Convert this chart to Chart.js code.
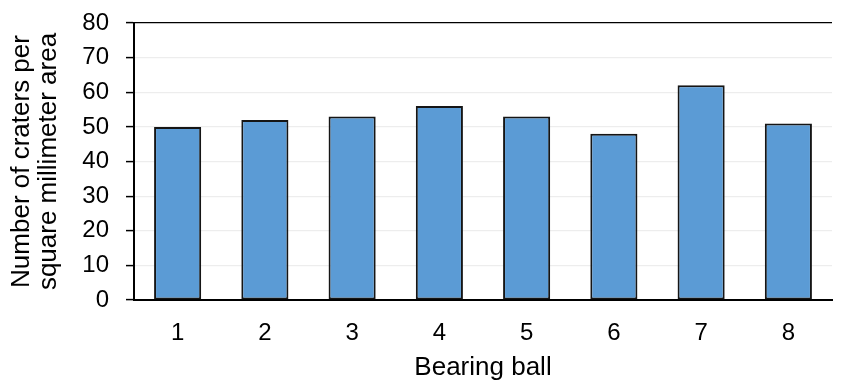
<!DOCTYPE html>
<html>
<head>
<meta charset="utf-8">
<script src="https://cdn.jsdelivr.net/npm/chart.js@4"></script>
<style>
  html, body { margin: 0; padding: 0; background: #fff; }
  #wrap { width: 841px; height: 381px; }
</style>
</head>
<body>
<div id="wrap"><canvas id="myChart" width="841" height="381"></canvas></div>
<script>
var balls = ['1', '2', '3', '4', '5', '6', '7', '8'];
var craters = [50, 52, 53, 56, 53, 48, 62, 51];
var yMin = 0, yMax = 80, yStep = 10;

var ctx = document.getElementById('myChart').getContext('2d');
var chart = new Chart(ctx, {
    type: 'bar',
    data: {
        labels: balls,
        datasets: [{
            label: 'Craters',
            data: craters,
            backgroundColor: '#5B9BD5',
            borderColor: '#151515',
            borderWidth: 2,
            borderSkipped: false,
            barPercentage: 0.54,
            categoryPercentage: 1
        }]
    },
    options: {
        responsive: false,
        animation: false,
        events: [],
        layout: { padding: { top: 23, right: 9, bottom: 0, left: 0 } },
        plugins: {
            legend: { display: false },
            tooltip: { enabled: false }
        },
        scales: {
            x: {
                grid: { display: false, drawTicks: false },
                border: { display: true, color: '#000', width: 2 },
                ticks: {
                    color: '#000',
                    padding: 19,
                    font: { family: 'Liberation Sans, Arial', size: 24 }
                },
                title: {
                    display: true,
                    text: 'Bearing ball',
                    color: '#000',
                    padding: { top: 0, bottom: -2 },
                    font: { family: 'Liberation Sans, Arial', size: 26 }
                },
                afterFit: function (scale) { scale.height = 81; }
            },
            y: {
                min: yMin,
                max: yMax,
                grid: {
                    // top gridline is the dark frame line, the rest are faint
                    color: function (c) {
                        if (c.tick && c.tick.value === yMax) return '#000';
                        return '#ededed';
                    },
                    lineWidth: 1.2,
                    drawTicks: true,
                    tickLength: 8,
                    tickColor: '#000',
                    tickWidth: 1.5
                },
                border: { display: true, color: '#000', width: 2 },
                ticks: {
                    stepSize: yStep,
                    color: '#000',
                    padding: 17,
                    font: { family: 'Liberation Sans, Arial', size: 24 }
                },
                title: {
                    display: true,
                    text: ['Number of craters per', 'square millimeter area'],
                    color: '#000',
                    padding: { top: 9, bottom: 0 },
                    font: { family: 'Liberation Sans, Arial', size: 26, lineHeight: 1.02 }
                },
                afterFit: function (scale) {
                    scale.width = 134;
                    scale.paddingTop = 0;
                    scale.paddingBottom = 0;
                }
            }
        }
    }
});
</script>
</body>
</html>
